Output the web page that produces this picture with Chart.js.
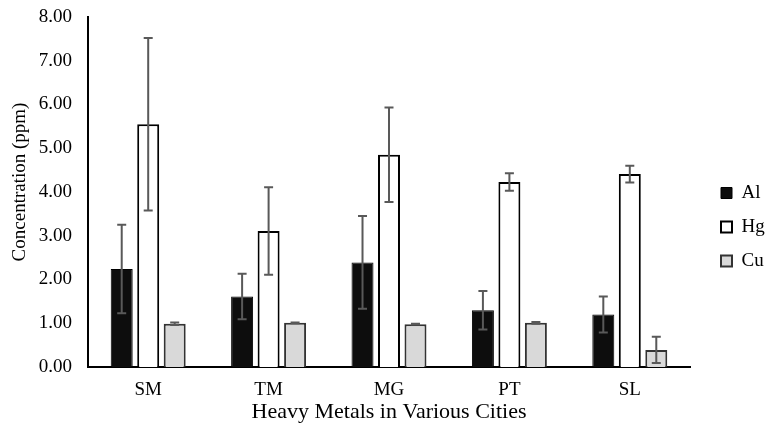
<!DOCTYPE html>
<html>
<head>
<meta charset="utf-8">
<script src="https://cdn.jsdelivr.net/npm/chart.js@4"></script>
<style>
  html, body { margin: 0; padding: 0; background: #fff; }
  #wrap { width: 773px; height: 431px; }
</style>
</head>
<body>
<div id="wrap"><canvas id="myChart" width="773" height="431"></canvas></div>
<script>
const cities = ['SM', 'TM', 'MG', 'PT', 'SL'];
const alValues = [2.24, 1.61, 2.39, 1.30, 1.20];
const alErrors = [1.01, 0.52, 1.06, 0.44, 0.41];
const hgValues = [5.55, 3.11, 4.85, 4.23, 4.41];
const hgErrors = [1.97, 1.00, 1.08, 0.20, 0.19];
const cuValues = [0.99, 1.01, 0.98, 1.01, 0.39];
const cuErrors = [0.03, 0.01, 0.01, 0.02, 0.30];
const yTicks = [0, 1, 2, 3, 4, 5, 6, 7, 8];
const yTitle = 'Concentration (ppm)';

const serif = "'Liberation Serif', 'Times New Roman', serif";

// error bars drawn on top of the bars
const errorBars = {
    id: 'errorBars',
    afterDatasetsDraw(chart) {
        const ctx = chart.ctx;
        const y = chart.scales.y;
        ctx.save();
        ctx.strokeStyle = '#595959';
        ctx.lineWidth = 2;
        chart.data.datasets.forEach((ds, di) => {
            const meta = chart.getDatasetMeta(di);
            meta.data.forEach((bar, i) => {
                const v = ds.data[i];
                const e = ds.errors[i];
                const top = y.getPixelForValue(v + e);
                const bot = y.getPixelForValue(v - e);
                const x = bar.x;
                ctx.beginPath();
                ctx.moveTo(x, top); ctx.lineTo(x, bot);
                ctx.moveTo(x - 4.5, top); ctx.lineTo(x + 4.5, top);
                ctx.moveTo(x - 4.5, bot); ctx.lineTo(x + 4.5, bot);
                ctx.stroke();
            });
        });
        ctx.restore();
    }
};

// y title sits a little above the middle of the axis, as in the original
const yTitleDraw = {
    id: 'yTitleDraw',
    afterDraw(chart) {
        const ctx = chart.ctx;
        const a = chart.chartArea;
        ctx.save();
        ctx.translate(20, (a.top + a.bottom) / 2 - 10);
        ctx.rotate(-Math.PI / 2);
        ctx.font = '19px ' + serif;
        ctx.fillStyle = '#000';
        ctx.textAlign = 'center';
        ctx.textBaseline = 'middle';
        ctx.fillText(yTitle, 0, 0);
        ctx.restore();
    }
};

// keep the legend a fixed width and place it right of the plot
const legendPlace = {
    id: 'legendPlace',
    beforeLayout(chart) {
        const lg = chart.legend;
        if (lg && !lg._fixed) {
            const fit = lg.fit.bind(lg);
            lg.fit = function () { fit(); this.width = 83; };
            lg._fixed = true;
        }
    },
    afterLayout(chart) {
        const lg = chart.legend;
        lg.left = 721 - lg.options.labels.padding;
        lg.right = lg.left + lg.width;
        lg.top += 3;
        lg.bottom += 3;
    }
};

new Chart(document.getElementById('myChart'), {
    type: 'bar',
    data: {
        labels: cities,
        datasets: [
            { label: 'Al', data: alValues, errors: alErrors, backgroundColor: '#0d0d0d', borderColor: '#000', borderWidth: 1 },
            { label: 'Hg', data: hgValues, errors: hgErrors, backgroundColor: '#ffffff', borderColor: '#000', borderWidth: 2 },
            { label: 'Cu', data: cuValues, errors: cuErrors, backgroundColor: '#d9d9d9', borderColor: '#333', borderWidth: 2 }
        ]
    },
    options: {
        responsive: false,
        animation: false,
        devicePixelRatio: 1,
        categoryPercentage: 0.66,
        barPercentage: 0.83,
        layout: { padding: { top: 17, left: 6, right: 0, bottom: 0 } },
        plugins: {
            legend: {
                position: 'right',
                labels: {
                    boxWidth: 11,
                    boxHeight: 11,
                    padding: 15,
                    color: '#000',
                    font: { family: serif, size: 19 }
                }
            },
            tooltip: { enabled: false }
        },
        scales: {
            x: {
                grid: { display: false, drawTicks: false, tickLength: 0 },
                border: { display: true, color: '#000', width: 2 },
                ticks: { color: '#000', padding: 12, font: { family: serif, size: 19 } },
                title: {
                    display: true,
                    text: 'Heavy Metals in Various Cities',
                    color: '#000',
                    font: { family: serif, size: 22 },
                    padding: { top: 0, bottom: 6 }
                },
                afterFit(scale) { scale.height = 64; }
            },
            y: {
                min: 0,
                max: 8,
                afterBuildTicks(scale) { scale.ticks = yTicks.map(v => ({ value: v })); },
                grid: { display: false, drawTicks: false, tickLength: 0 },
                border: { display: true, color: '#000', width: 2 },
                ticks: {
                    color: '#000',
                    padding: 16,
                    font: { family: serif, size: 19 },
                    callback: v => Number(v).toFixed(2)
                },
                title: { display: false },
                afterFit(scale) {
                    scale.width = 82;
                    scale.paddingTop = 0;
                    scale.paddingBottom = 0;
                }
            }
        }
    },
    plugins: [errorBars, yTitleDraw, legendPlace]
});
</script>
</body>
</html>
